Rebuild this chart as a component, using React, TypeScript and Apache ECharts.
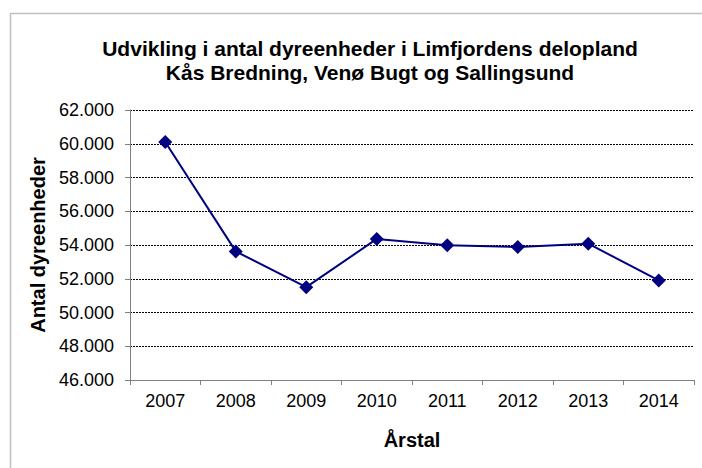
import React, { useEffect, useRef } from "react";
import * as echarts from "echarts";

const years = ["2007", "2008", "2009", "2010", "2011", "2012", "2013", "2014"];
const units = [60100, 53620, 51500, 54360, 53980, 53880, 54080, 51900];
const titleLines = [
  "Udvikling i antal dyreenheder i Limfjordens delopland",
  "Kås Bredning, Venø Bugt og Sallingsund",
];
const yAxisName = "Antal dyreenheder";
const xAxisName = "Årstal";

function fmt(v: number): string {
  const s = Math.round(v).toString();
  return s.replace(/\B(?=(\d{3})+(?!\d))/g, ".");
}

export default function App() {
  const ref = useRef<HTMLDivElement>(null);
  useEffect(() => {
    if (!ref.current) return;
    const chart = echarts.init(ref.current, null, { renderer: "svg" });
    const font = "'Liberation Sans', Arial, sans-serif";
    chart.setOption({
      animation: false,
      backgroundColor: "#ffffff",
      textStyle: { fontFamily: font },
      title: {
        text: titleLines.join("\n"),
        left: 365,
        textAlign: "center",
        top: 31,
        textStyle: {
          fontFamily: font,
          fontWeight: "bold",
          fontSize: 21,
          lineHeight: 24,
          color: "#000",
        },
      },
      graphic: [
        {
          type: "rect",
          shape: { x: 10.5, y: 13.5, width: 720, height: 480 },
          style: { fill: "none", stroke: "#c0c0c0", lineWidth: 1.5 },
          silent: true,
        },
      ],
      grid: { left: 130, right: 8, top: 110, bottom: 88, containLabel: false },
      xAxis: {
        type: "category",
        data: years,
        boundaryGap: true,
        name: xAxisName,
        nameLocation: "middle",
        nameGap: 50,
        nameTextStyle: { fontFamily: font, fontWeight: "bold", fontSize: 20, color: "#000" },
        axisLine: { lineStyle: { color: "#808080", width: 1 } },
        axisTick: { show: true, alignWithLabel: false, length: 5, lineStyle: { color: "#808080" } },
        axisLabel: { fontFamily: font, fontSize: 18, color: "#000", margin: 12 },
        splitLine: { show: false },
      },
      yAxis: {
        type: "value",
        min: 46000,
        max: 62000,
        interval: 2000,
        name: yAxisName,
        nameLocation: "middle",
        nameGap: 80,
        nameRotate: 90,
        nameTextStyle: { fontFamily: font, fontWeight: "bold", fontSize: 20, color: "#000" },
        axisLine: { show: true, lineStyle: { color: "#808080", width: 1 } },
        axisTick: { show: true, length: 5, lineStyle: { color: "#808080" } },
        axisLabel: { fontFamily: font, fontSize: 18, color: "#000", margin: 16, formatter: (v: number) => fmt(v) },
        splitLine: { show: true, lineStyle: { color: "#000", type: [2, 1], width: 1 } },
      },
      series: [
        {
          type: "line",
          data: units,
          symbol: "diamond",
          symbolSize: 14,
          lineStyle: { color: "#000080", width: 2 },
          itemStyle: { color: "#000080" },
        },
      ],
    });
    return () => chart.dispose();
  }, []);
  return (
    <div
      ref={ref}
      style={{ position: "fixed", left: 0, top: 0, width: 702, height: 468 }}
    />
  );
}
